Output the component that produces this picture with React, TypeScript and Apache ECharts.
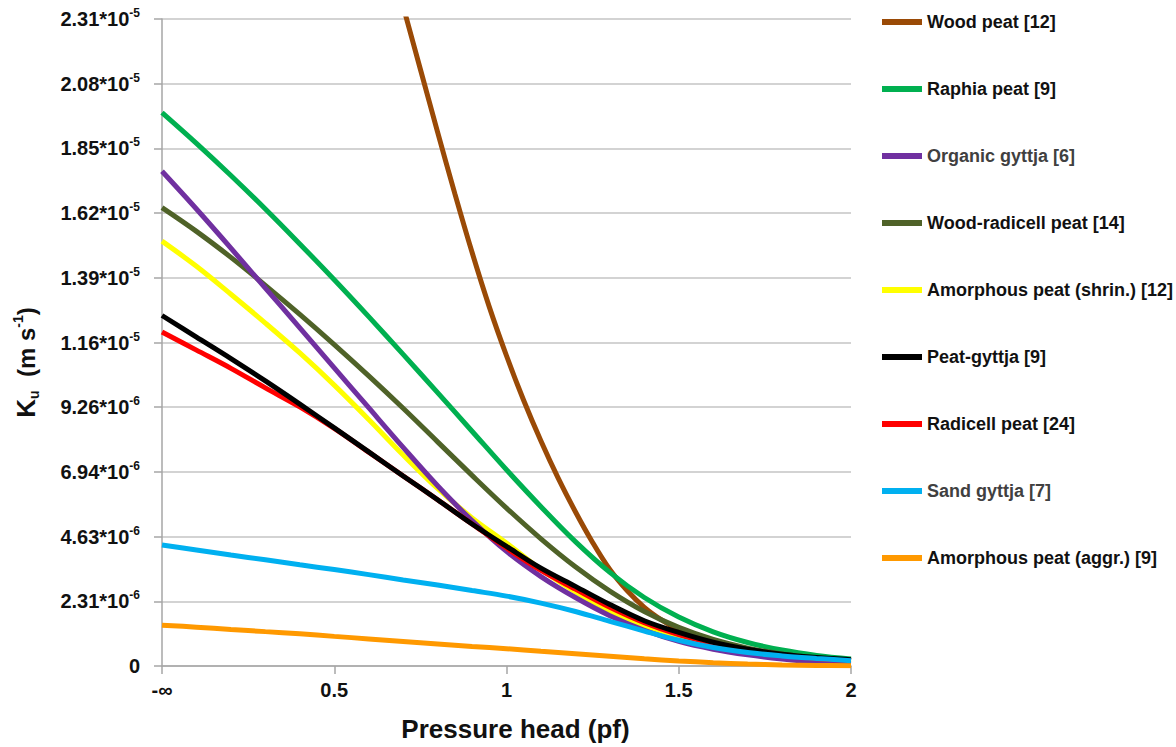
import React, { useEffect, useRef } from 'react';
import * as echarts from 'echarts';

// Pressure head (pF) sampling; 0 is shown as "-∞"
const pF = [0, 0.1, 0.2, 0.3, 0.4, 0.5, 0.6, 0.7, 0.8, 0.9, 1.0, 1.1, 1.2, 1.3, 1.4, 1.5, 1.6, 1.7, 1.8, 1.9, 2.0];
const woodPeatPF = [0.7, 0.75, 0.8, 0.85, 0.9, 0.95, 1.0, 1.05, 1.1, 1.15, 1.2, 1.25, 1.3, 1.35, 1.4, 1.45, 1.5, 1.6, 1.7, 1.8, 1.9, 2.0];

// Ku in 10^-6 m/s
const woodPeat = [23.6, 21.35, 19.1, 16.9, 14.8, 12.85, 11.1, 9.5, 8.05, 6.72, 5.52, 4.42, 3.45, 2.7, 2.1, 1.65, 1.3, 0.85, 0.58, 0.42, 0.3, 0.2];
const raphiaPeat = [19.8, 18.7, 17.55, 16.35, 15.1, 13.82, 12.5, 11.15, 9.78, 8.4, 7.02, 5.7, 4.45, 3.35, 2.45, 1.75, 1.22, 0.84, 0.57, 0.38, 0.25];
const organicGyttja = [17.7, 16.35, 14.95, 13.52, 12.1, 10.67, 9.24, 7.82, 6.45, 5.2, 4.1, 3.2, 2.45, 1.8, 1.28, 0.88, 0.6, 0.4, 0.25, 0.14, 0.07];
const woodRadicellPeat = [16.4, 15.55, 14.62, 13.62, 12.58, 11.5, 10.38, 9.22, 8.02, 6.82, 5.65, 4.55, 3.55, 2.68, 1.95, 1.38, 0.95, 0.64, 0.43, 0.29, 0.2];
const amorphousShrin = [15.2, 14.3, 13.3, 12.27, 11.2, 10.05, 8.82, 7.55, 6.35, 5.3, 4.4, 3.45, 2.65, 1.98, 1.43, 1.02, 0.72, 0.5, 0.34, 0.22, 0.12];
const peatGyttja = [12.54, 11.77, 11.0, 10.2, 9.37, 8.52, 7.66, 6.8, 5.95, 5.08, 4.28, 3.5, 2.85, 2.2, 1.62, 1.2, 0.85, 0.6, 0.42, 0.3, 0.22];
const radicellPeat = [11.95, 11.3, 10.65, 9.95, 9.27, 8.5, 7.65, 6.8, 5.95, 5.08, 4.22, 3.42, 2.75, 2.1, 1.55, 1.12, 0.8, 0.55, 0.38, 0.27, 0.2];
const sandGyttja = [4.33, 4.15, 3.97, 3.8, 3.62, 3.45, 3.27, 3.08, 2.9, 2.7, 2.5, 2.25, 1.95, 1.6, 1.25, 0.92, 0.66, 0.48, 0.36, 0.27, 0.19];
const amorphousAggr = [1.46, 1.39, 1.31, 1.23, 1.15, 1.06, 0.97, 0.88, 0.79, 0.7, 0.62, 0.53, 0.44, 0.35, 0.26, 0.18, 0.12, 0.07, 0.04, 0.02, 0.01];

const legendNames = [
  'Wood peat [12]',
  'Raphia peat [9]',
  'Organic gyttja [6]',
  'Wood-radicell peat [14]',
  'Amorphous peat (shrin.) [12]',
  'Peat-gyttja [9]',
  'Radicell peat [24]',
  'Sand gyttja [7]',
  'Amorphous peat (aggr.) [9]',
];
const grayLegend = ['Organic gyttja [6]', 'Sand gyttja [7]'];

const xTickLabels: Record<string, string> = { '0': '-∞', '0.5': '0.5', '1': '1', '1.5': '1.5', '2': '2' };

// axis step: 0.2 m/day expressed in 10^-6 m/s
const yStep = (0.2 / 86400) * 1e6;

const FONT = '"Liberation Sans", Arial, sans-serif';

function zip(xs: number[], ys: number[]) {
  return ys.map((y, i) => [xs[i], y]);
}

export default function App() {
  const ref = useRef<HTMLDivElement>(null);
  useEffect(() => {
    if (!ref.current) return;
    const chart = echarts.init(ref.current, undefined, { renderer: 'svg' });

    const mk = (name: string, color: string, data: number[][]) => ({
      name,
      type: 'line',
      data,
      smooth: 0.35,
      showSymbol: false,
      symbol: 'none',
      clip: true,
      lineStyle: { width: 5, color },
      itemStyle: { color },
    });

    const series = [
      mk('Wood peat [12]', '#9A4A06', zip(woodPeatPF, woodPeat)),
      mk('Raphia peat [9]', '#00B050', zip(pF, raphiaPeat)),
      mk('Wood-radicell peat [14]', '#4F6228', zip(pF, woodRadicellPeat)),
      mk('Amorphous peat (shrin.) [12]', '#FFFF00', zip(pF, amorphousShrin)),
      mk('Organic gyttja [6]', '#7030A0', zip(pF, organicGyttja)),
      mk('Radicell peat [24]', '#FF0000', zip(pF, radicellPeat)),
      mk('Peat-gyttja [9]', '#000000', zip(pF, peatGyttja)),
      mk('Sand gyttja [7]', '#00B0F0', zip(pF, sandGyttja)),
      mk('Amorphous peat (aggr.) [9]', '#FF9900', zip(pF, amorphousAggr)),
    ];

    chart.setOption({
      animation: false,
      backgroundColor: '#ffffff',
      grid: { left: 162, right: 325, top: 19, bottom: 80, containLabel: false },
      legend: {
        orient: 'vertical',
        left: 877,
        top: 7,
        icon: 'rect',
        itemWidth: 40,
        itemHeight: 6,
        itemGap: 47,
        textStyle: { fontFamily: FONT, fontWeight: 'bold', fontSize: 18, lineHeight: 20, color: '#111' },
        data: legendNames.map((n) => ({
          name: n,
          textStyle: { color: grayLegend.includes(n) ? '#404040' : '#111' },
        })),
      },
      xAxis: {
        type: 'value',
        min: 0,
        max: 2,
        interval: 0.5,
        name: 'Pressure head (pf)',
        nameLocation: 'middle',
        nameGap: 50,
        nameTextStyle: { fontFamily: FONT, fontWeight: 'bold', fontSize: 26, color: '#111', padding: [0, 0, 0, 18] },
        axisLine: { show: true, lineStyle: { color: '#a6a6a6', width: 1.5 } },
        axisTick: { show: true, length: 8, lineStyle: { color: '#a6a6a6', width: 1.5 } },
        splitLine: { show: false },
        axisLabel: {
          margin: 14,
          fontFamily: FONT,
          fontWeight: 'bold',
          fontSize: 20,
          color: '#111',
          formatter: (v: number) => xTickLabels[String(v)] ?? String(v),
        },
      },
      yAxis: {
        type: 'value',
        min: 0,
        max: yStep * 10 - 1e-9,
        interval: yStep,
        name: '{k|K}{sub|u}{t|  (m s}{sup|-1}{t|)}',
        nameLocation: 'middle',
        nameRotate: 90,
        nameGap: 121,
        nameTextStyle: {
          fontFamily: FONT,
          fontWeight: 'bold',
          color: '#111',
          padding: [0, 40, 0, 0],
          rich: {
            k: { fontFamily: FONT, fontWeight: 'bold', fontSize: 26, lineHeight: 30, color: '#111' },
            t: { fontFamily: FONT, fontWeight: 'bold', fontSize: 24, lineHeight: 30, color: '#111' },
            sub: { fontFamily: FONT, fontWeight: 'bold', fontSize: 14, lineHeight: 30, verticalAlign: 'bottom', color: '#111' },
            sup: { fontFamily: FONT, fontWeight: 'bold', fontSize: 14, lineHeight: 14, verticalAlign: 'top', color: '#111' },
          },
        },
        axisLine: { show: true, lineStyle: { color: '#a6a6a6', width: 1.5 } },
        axisTick: { show: true, length: 8, lineStyle: { color: '#a6a6a6', width: 1.5 } },
        splitLine: { show: true, lineStyle: { color: '#c4c4c4', width: 1.5 } },
        axisLabel: {
          margin: 22,
          fontFamily: FONT,
          fontWeight: 'bold',
          fontSize: 20,
          color: '#111',
          formatter: (v: number) => {
            if (Math.abs(v) < 1e-9) return '{m|0}';
            const s = (v * 1e-6).toExponential(2);
            const [mant, exp] = s.split('e');
            return '{m|' + mant + '*10}{s|' + String(parseInt(exp, 10)) + '}';
          },
          rich: {
            m: { fontFamily: FONT, fontWeight: 'bold', fontSize: 20, lineHeight: 24, color: '#111' },
            s: { fontFamily: FONT, fontWeight: 'bold', fontSize: 12, lineHeight: 12, verticalAlign: 'top', color: '#111' },
          },
        },
      },
      series,
    });

    return () => chart.dispose();
  }, []);

  return <div ref={ref} style={{ position: 'absolute', left: 0, top: 0, width: 1176, height: 747 }} />;
}
